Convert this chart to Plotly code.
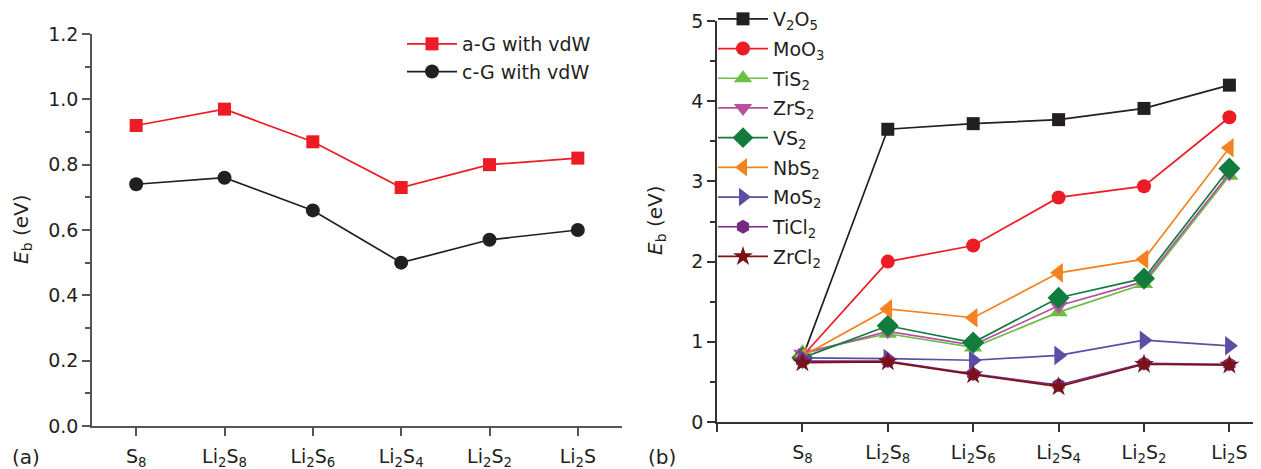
import plotly.graph_objects as go

# page is offset by the default 8px body margin
OFF = 8
FW, FH = 1261 - OFF, 469 - OFF


def fx(px):
    return (px - OFF) / FW


def fy(py):
    return 1 - (py - OFF) / FH


categories = ["S<sub>8</sub>", "Li<sub>2</sub>S<sub>8</sub>", "Li<sub>2</sub>S<sub>6</sub>",
              "Li<sub>2</sub>S<sub>4</sub>", "Li<sub>2</sub>S<sub>2</sub>", "Li<sub>2</sub>S"]
xpos = list(range(len(categories)))

# Panel (a)
aG_vdw = [0.92, 0.97, 0.87, 0.73, 0.80, 0.82]
cG_vdw = [0.74, 0.76, 0.66, 0.50, 0.57, 0.60]

# Panel (b)
V2O5 = [0.80, 3.65, 3.72, 3.77, 3.91, 4.20]
MoO3 = [0.82, 2.00, 2.20, 2.80, 2.94, 3.80]
TiS2 = [0.87, 1.10, 0.93, 1.37, 1.72, 3.07]
ZrS2 = [0.85, 1.13, 0.96, 1.45, 1.75, 3.10]
VS2 = [0.80, 1.20, 0.99, 1.55, 1.79, 3.16]
NbS2 = [0.82, 1.41, 1.30, 1.86, 2.03, 3.42]
MoS2 = [0.80, 0.79, 0.77, 0.83, 1.02, 0.95]
TiCl2 = [0.76, 0.76, 0.60, 0.46, 0.73, 0.72]
ZrCl2 = [0.74, 0.75, 0.59, 0.44, 0.72, 0.71]

yticks_a = [0, 0.2, 0.4, 0.6, 0.8, 1.0, 1.2]
yticklabels_a = ["0.0", "0.2", "0.4", "0.6", "0.8", "1.0", "1.2"]
yminor_a = [0.1, 0.3, 0.5, 0.7, 0.9, 1.1]
yticks_b = [0, 1, 2, 3, 4, 5]
yminor_b = [0.5, 1.5, 2.5, 3.5, 4.5]

FONT = "DejaVu Sans, Liberation Sans, Arial, sans-serif"
FS = 19
TXT = "#231f20"
AX_A = "#555555"
AX_B = "#333333"

fig = go.Figure()

# ---- panel (a)
fig.add_trace(go.Scatter(x=xpos, y=aG_vdw, mode="lines+markers", name="a-G with vdW",
                         line=dict(color="#ed1c24", width=1.7),
                         marker=dict(symbol="square", size=13, color="#ed1c24"),
                         xaxis="x", yaxis="y", legend="legend", legendgroup="a1"))
fig.add_trace(go.Scatter(x=xpos, y=cG_vdw, mode="lines+markers", name="c-G with vdW",
                         line=dict(color="#231f20", width=1.7),
                         marker=dict(symbol="circle", size=14, color="#231f20"),
                         xaxis="x", yaxis="y", legend="legend", legendgroup="a2"))

# ---- panel (b)
series_b = [
    ("V<sub>2</sub>O<sub>5</sub>", V2O5, "#231f20", "square", 13),
    ("MoO<sub>3</sub>", MoO3, "#ed1c24", "circle", 14),
    ("TiS<sub>2</sub>", TiS2, "#6dbe45", "triangle-up", 16),
    ("ZrS<sub>2</sub>", ZrS2, "#b5519f", "triangle-down", 16),
    ("VS<sub>2</sub>", VS2, "#127c3e", "diamond", 17),
    ("NbS<sub>2</sub>", NbS2, "#f58220", "triangle-left", 17),
    ("MoS<sub>2</sub>", MoS2, "#5a4ea6", "triangle-right", 17),
    ("TiCl<sub>2</sub>", TiCl2, "#762a83", "hexagon", 14),
    ("ZrCl<sub>2</sub>", ZrCl2, "#7a1216", "star", 15),
]
for i, (name, vals, col, sym, sz) in enumerate(series_b):
    fig.add_trace(go.Scatter(x=xpos, y=vals, mode="lines+markers", name=name,
                             line=dict(color=col, width=1.7),
                             marker=dict(symbol=sym, size=sz, color=col),
                             xaxis="x2", yaxis="y2", legend="legend2", legendgroup=f"b{i}"))


def axis_common(col):
    return dict(showgrid=False, zeroline=False, showline=True, linecolor=col, linewidth=1.5,
                ticks="outside", tickcolor=col, tickwidth=1.5, ticklen=8, automargin=False,
                tickfont=dict(family=FONT, size=FS, color=TXT))


fig.update_layout(
    width=FW, height=FH, margin=dict(l=0, r=0, t=0, b=0, autoexpand=False),
    paper_bgcolor="white", plot_bgcolor="white",
    font=dict(family=FONT, color=TXT),
    xaxis=dict(domain=[fx(92), fx(622)], range=[-0.5, 5.5], anchor="y",
               tickvals=xpos, ticktext=categories, ticklabelstandoff=4, **axis_common(AX_A)),
    yaxis=dict(domain=[fy(426), fy(34)], range=[0, 1.2], anchor="x",
               tickvals=yticks_a, ticktext=yticklabels_a,
               minor=dict(tickvals=yminor_a, ticklen=5, ticks="outside",
                          tickcolor=AX_A, tickwidth=1.5),
               **axis_common(AX_A)),
    xaxis2=dict(domain=[fx(717), 1.0], range=[-1, 5.37], anchor="y2",
                tickvals=[-1] + xpos, ticktext=[""] + categories, ticklabelstandoff=4,
                **axis_common(AX_B)),
    yaxis2=dict(domain=[fy(422), fy(21)], range=[0, 5], anchor="x2",
                tickvals=yticks_b,
                minor=dict(tickvals=yminor_b, ticklen=5, ticks="outside",
                           tickcolor=AX_B, tickwidth=1.5),
                **axis_common(AX_B)),
    legend=dict(x=fx(402), y=fy(25), xanchor="left", yanchor="top", bgcolor="rgba(0,0,0,0)",
                font=dict(family=FONT, size=FS, color=TXT), tracegroupgap=0, itemwidth=50),
    legend2=dict(x=fx(713), y=fy(0), xanchor="left", yanchor="top", bgcolor="rgba(0,0,0,0)",
                 font=dict(family=FONT, size=FS, color=TXT), tracegroupgap=2, itemwidth=50,
                 maxheight=600),
    showlegend=True,
    annotations=[
        dict(text="<i>E</i><sub>b</sub> (eV)", x=fx(22), y=fy(230), xref="paper", yref="paper",
             xanchor="center", yanchor="middle", textangle=-90, showarrow=False,
             font=dict(family=FONT, size=20, color=TXT)),
        dict(text="<i>E</i><sub>b</sub> (eV)", x=fx(656), y=fy(221), xref="paper", yref="paper",
             xanchor="center", yanchor="middle", textangle=-90, showarrow=False,
             font=dict(family=FONT, size=20, color=TXT)),
        dict(text="(a)", x=fx(10), y=fy(457), xref="paper", yref="paper", xanchor="left",
             yanchor="middle", showarrow=False, font=dict(family=FONT, size=20, color=TXT)),
        dict(text="(b)", x=fx(646), y=fy(457), xref="paper", yref="paper", xanchor="left",
             yanchor="middle", showarrow=False, font=dict(family=FONT, size=20, color=TXT)),
    ],
)

fig.write_html("out.html")
